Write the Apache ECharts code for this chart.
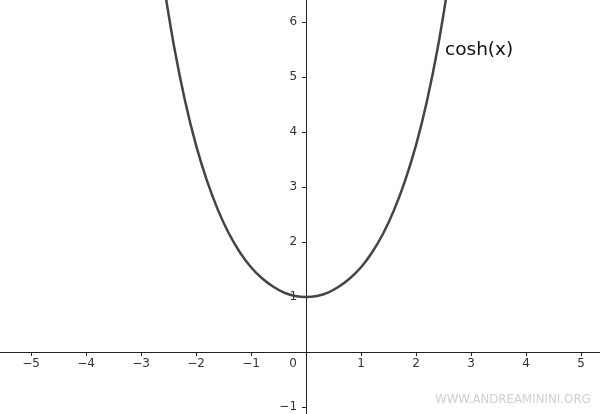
<!DOCTYPE html>
<html>
<head>
<meta charset="utf-8">
<script src="https://cdn.jsdelivr.net/npm/echarts@6/dist/echarts.min.js"></script>
<style>
html,body{margin:0;padding:0;background:#fff;}
#c{width:600px;height:414px;}
</style>
</head>
<body>
<div id="c"></div>
<script>
const xs = [-2.7,-2.6,-2.4,-2.2,-2.0,-1.8,-1.6,-1.4,-1.2,-1.0,-0.8,-0.6,-0.4,-0.2,0,0.2,0.4,0.6,0.8,1.0,1.2,1.4,1.6,1.8,2.0,2.2,2.4,2.6,2.7];
const ys = [7.47,6.77,5.56,4.57,3.76,3.11,2.58,2.15,1.81,1.54,1.34,1.19,1.08,1.02,1.00,1.02,1.08,1.19,1.34,1.54,1.81,2.15,2.58,3.11,3.76,4.57,5.56,6.77,7.47];
const xTicks = [-5,-4,-3,-2,-1,0,1,2,3,4,5];
const yTicks = [-1,1,2,3,4,5,6];
const curveLabel = 'cosh(x)';
const watermark = 'WWW.ANDREAMININI.ORG';

const chart = echarts.init(document.getElementById('c'));
const axisCol = '#222';
const txtCol = '#333';
const fmt = v => v < 0 ? '\u2212' + Math.abs(v) : String(v);
const W = 600, H = 414;
const xMin = -5.564, xMax = 5.345, yMin = -1.127, yMax = 6.4;
// pixel offsets that place each axis line on the other axis's zero
const xAxisOffset = -(H * (0 - yMin) / (yMax - yMin));
const yAxisOffset = -(W * (0 - xMin) / (xMax - xMin));

chart.setOption({
  animation: false,
  backgroundColor: '#fff',
  grid: {left: 0, right: 0, top: 0, bottom: 0, containLabel: false, outerBoundsMode: 'none'},
  xAxis: {
    type: 'value', min: xMin, max: xMax, position: 'bottom', offset: xAxisOffset,
    splitLine: {show: false},
    axisLine: {show: true, onZero: false, lineStyle: {color: axisCol, width: 1}},
    axisTick: {show: true, length: 4, lineStyle: {color: axisCol}, customValues: xTicks},
    axisLabel: {
      show: true, customValues: xTicks, hideOverlap: false,
      color: txtCol, fontSize: 12, fontFamily: 'DejaVu Sans', margin: 6,
      formatter: v => v === 0 ? '{z|0}' : fmt(v),
      rich: {z: {color: txtCol, fontSize: 12, fontFamily: 'DejaVu Sans', padding: [0, 26, 0, 0]}}
    }
  },
  yAxis: {
    type: 'value', min: yMin, max: yMax, position: 'left', offset: yAxisOffset,
    splitLine: {show: false},
    axisLine: {show: true, onZero: false, lineStyle: {color: axisCol, width: 1}},
    axisTick: {show: true, length: 4, lineStyle: {color: axisCol}, customValues: yTicks},
    axisLabel: {
      show: true, customValues: yTicks, hideOverlap: false,
      color: txtCol, fontSize: 12, fontFamily: 'DejaVu Sans', margin: 9,
      formatter: v => fmt(v)
    }
  },
  series: [{
    type: 'line',
    data: xs.map((x, i) => [x, ys[i]]),
    smooth: 0.3,
    showSymbol: false,
    clip: true,
    lineStyle: {color: '#444', width: 2.5}
  }],
  graphic: [
    {type: 'text', left: 445, top: 41, style: {text: curveLabel, fill: '#111', font: '18.5px "DejaVu Sans"'}},
    {type: 'text', left: 435, top: 394, style: {text: watermark, fill: '#cfcfcf', font: '11.8px "DejaVu Sans"'}}
  ]
});
</script>
</body>
</html>
